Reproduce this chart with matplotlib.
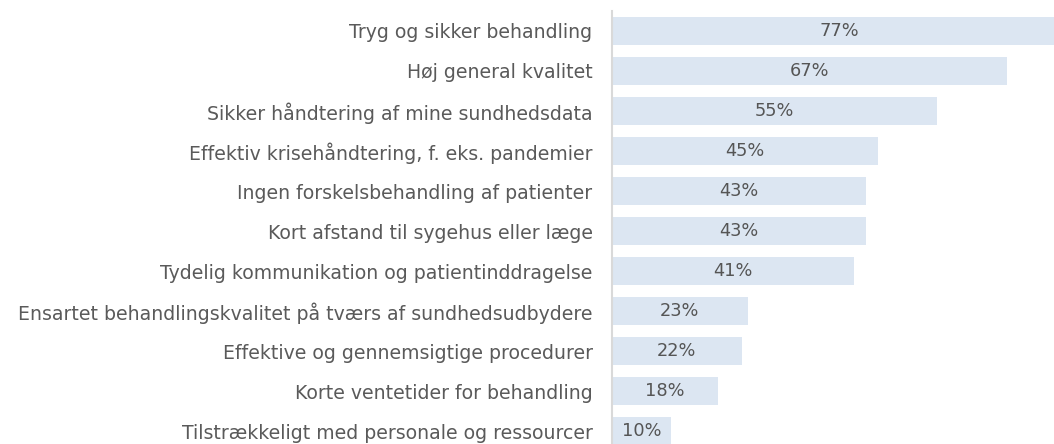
import matplotlib
matplotlib.use("Agg")
import matplotlib.pyplot as plt

categories = [
    "Tryg og sikker behandling",
    "Høj general kvalitet",
    "Sikker håndtering af mine sundhedsdata",
    "Effektiv krisehåndtering, f. eks. pandemier",
    "Ingen forskelsbehandling af patienter",
    "Kort afstand til sygehus eller læge",
    "Tydelig kommunikation og patientinddragelse",
    "Ensartet behandlingskvalitet på tværs af sundhedsudbydere",
    "Effektive og gennemsigtige procedurer",
    "Korte ventetider for behandling",
    "Tilstrækkeligt med personale og ressourcer",
]
values = [77, 67, 55, 45, 43, 43, 41, 23, 22, 18, 10]

W, H = 1054, 444
fig = plt.figure(figsize=(W / 100, H / 100), dpi=100)
x0, x1 = 612, 1054
ytop, ybot = 11, 444
ax = fig.add_axes([x0 / W, 1 - ybot / H, (x1 - x0) / W, (ybot - ytop) / H])

pos = list(range(len(categories)))
ax.barh(pos, values, height=0.7, color="#dce6f2", zorder=2)
for p, v in zip(pos, values):
    ax.text(v / 2, p, f"{v}%", ha="center", va="center", fontsize=12.8,
            color="#555555", family="DejaVu Sans", zorder=3)

ax.set_xlim(0, (x1 - x0) / 5.9)
ax.set_ylim(-0.5 + (ybot - ytop) / 40.0, -0.5)
ax.set_yticks(pos)
ax.set_yticklabels(categories, fontsize=13.6, color="#5a5a5a", family="DejaVu Sans")
ax.tick_params(axis="y", length=0, pad=14)
ax.set_xticks([])
for s in ["top", "right", "bottom"]:
    ax.spines[s].set_visible(False)
ax.spines["left"].set_color("#d9d9d9")
ax.spines["left"].set_linewidth(1.5)

fig.savefig("out.png", dpi=100)
